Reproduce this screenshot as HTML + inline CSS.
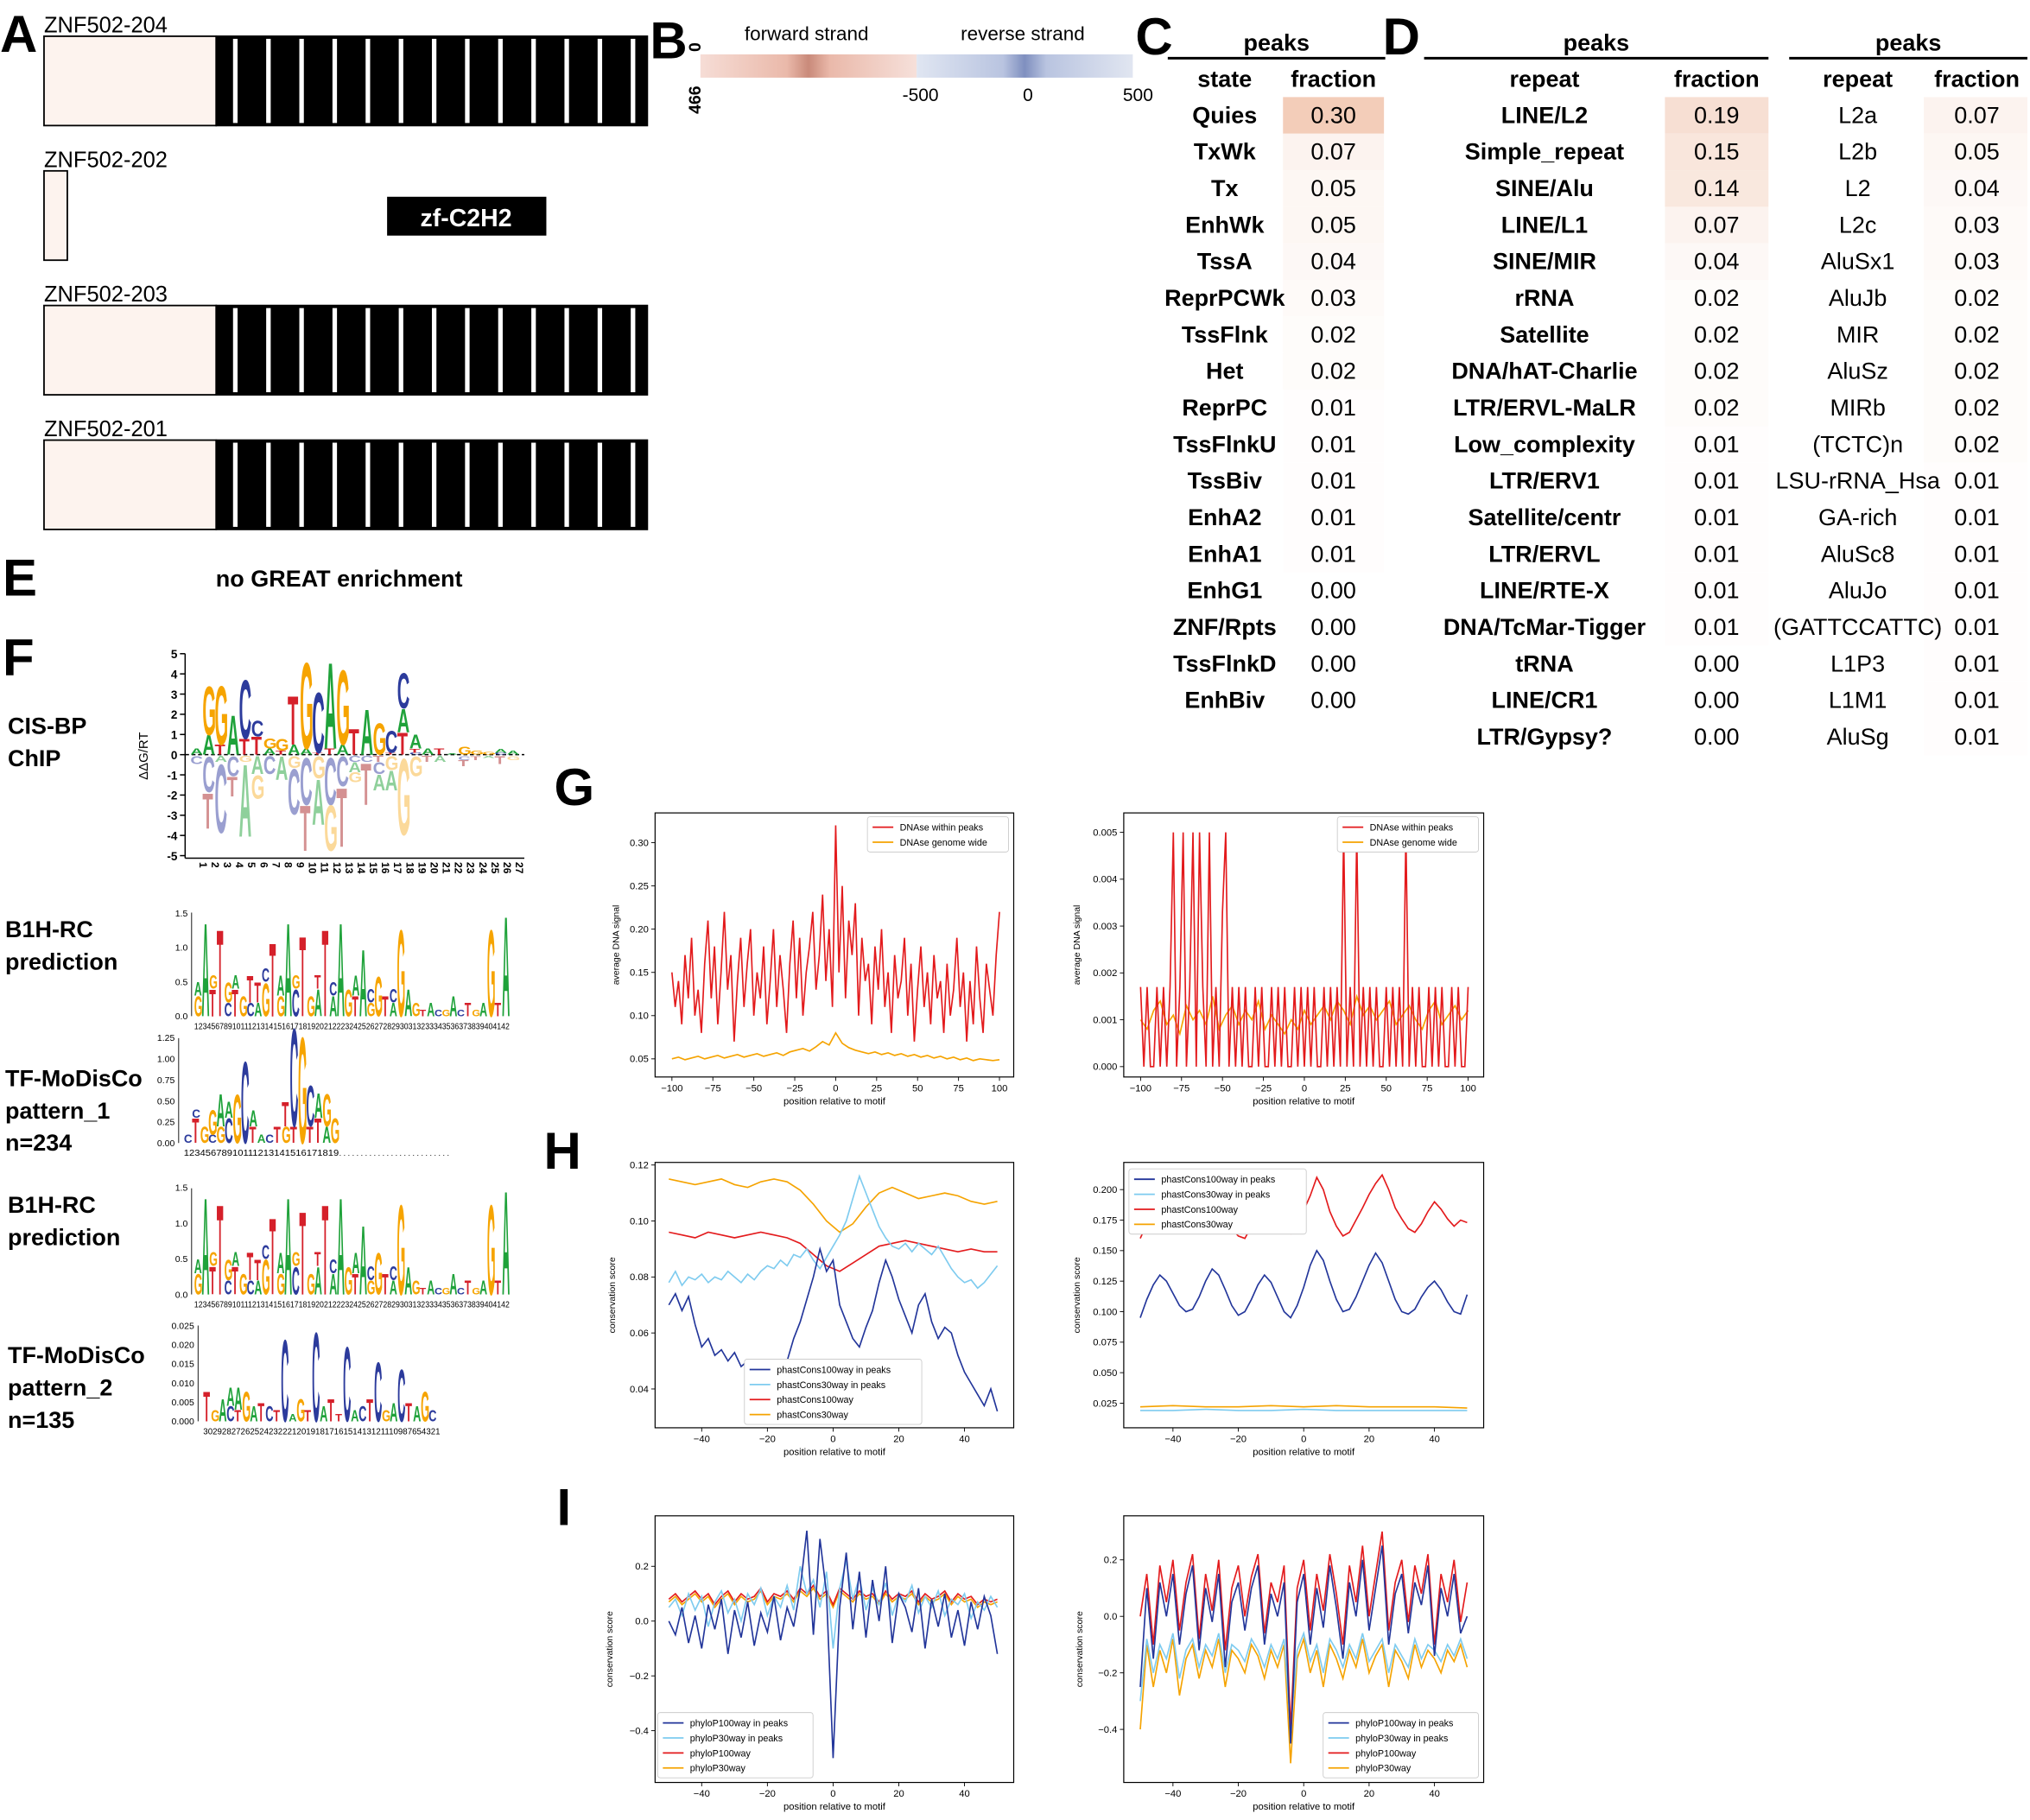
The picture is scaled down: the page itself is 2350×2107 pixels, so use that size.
<!DOCTYPE html>
<html><head><meta charset="utf-8"><style>
html,body{margin:0;padding:0;background:#fff}
svg{display:block}
text{font-family:"Liberation Sans",sans-serif}
</style></head>
<body>
<svg id="fig" xmlns="http://www.w3.org/2000/svg" width="2350" height="2107" viewBox="0 0 1568 1406" preserveAspectRatio="none"></svg>
<script>
// ---------- data ----------
const stateNames=["Quies","TxWk","Tx","EnhWk","TssA","ReprPCWk","TssFlnk","Het","ReprPC","TssFlnkU","TssBiv","EnhA2","EnhA1","EnhG1","ZNF/Rpts","TssFlnkD","EnhBiv"];
const stateFrac=[0.30,0.07,0.05,0.05,0.04,0.03,0.02,0.02,0.01,0.01,0.01,0.01,0.01,0.00,0.00,0.00,0.00];
const repNames=["LINE/L2","Simple_repeat","SINE/Alu","LINE/L1","SINE/MIR","rRNA","Satellite","DNA/hAT-Charlie","LTR/ERVL-MaLR","Low_complexity","LTR/ERV1","Satellite/centr","LTR/ERVL","LINE/RTE-X","DNA/TcMar-Tigger","tRNA","LINE/CR1","LTR/Gypsy?"];
const repFrac=[0.19,0.15,0.14,0.07,0.04,0.02,0.02,0.02,0.02,0.01,0.01,0.01,0.01,0.01,0.01,0.00,0.00,0.00];
const rep2Names=["L2a","L2b","L2","L2c","AluSx1","AluJb","MIR","AluSz","MIRb","(TCTC)n","LSU-rRNA_Hsa","GA-rich","AluSc8","AluJo","(GATTCCATTC)","L1P3","L1M1","AluSg"];
const rep2Frac=[0.07,0.05,0.04,0.03,0.03,0.02,0.02,0.02,0.02,0.02,0.01,0.01,0.01,0.01,0.01,0.01,0.01,0.01];

const gLeftRed=[0.15,0.11,0.14,0.09,0.17,0.12,0.19,0.10,0.13,0.08,0.16,0.21,0.12,0.18,0.09,0.15,0.22,0.13,0.17,0.07,0.14,0.19,0.11,0.16,0.20,0.10,0.15,0.12,0.18,0.09,
0.14,0.20,0.11,0.17,0.13,0.08,0.16,0.21,0.12,0.19,0.10,0.15,0.18,0.22,0.13,0.17,0.24,0.14,0.20,0.11,0.32,0.15,0.25,0.12,0.21,0.17,0.23,0.10,0.19,0.14,
0.16,0.09,0.18,0.13,0.20,0.11,0.15,0.08,0.17,0.12,0.14,0.19,0.10,0.16,0.07,0.13,0.18,0.11,0.15,0.09,0.17,0.12,0.14,0.08,0.16,0.10,0.13,0.19,0.11,0.15,
0.07,0.14,0.09,0.18,0.12,0.08,0.16,0.13,0.10,0.17,0.22];
const gLeftOrange=[0.050,0.052,0.049,0.051,0.053,0.050,0.052,0.054,0.051,0.053,0.055,0.052,0.054,0.056,0.053,0.055,0.057,0.054,0.058,0.060,0.062,0.059,0.064,0.070,0.066,0.080,0.068,0.063,0.060,0.058,0.056,0.058,0.055,0.057,0.054,0.056,0.053,0.055,0.052,0.054,0.051,0.053,0.050,0.052,0.049,0.051,0.048,0.050,0.049,0.048,0.049];
const gRightRed=[17,0,17,0,0,17,0,17,0,17, 50,0,17,50,0,17,50,0,50,17, 0,50,0,17,0,33,50,0,17,0, 17,0,17,0,0,17,0,17,0,0, 17,0,17,0,17,0,0,17,0,17, 0,17,0,17,0,0,17,0,17,0, 17,0,50,0,17,0,50,0,17,0, 17,0,17,0,0,17,0,17,0,17, 0,50,0,17,0,17,0,0,17,0, 17,0,17,0,0,17,0,17,0,0,17];
const gRightOrange=[10,8,12,14,9,11,7,13,10,12,9,15,8,11,13,9,12,10,14,8,11,9,7,10,8,12,9,11,13,10,14,12,9,15,11,13,10,12,14,9,11,13,10,8,12,14,9,11,13,10,12];

const hLeftOrange=[0.115,0.114,0.113,0.114,0.115,0.113,0.112,0.114,0.115,0.114,0.111,0.106,0.100,0.096,0.099,0.105,0.110,0.112,0.110,0.108,0.109,0.110,0.109,0.107,0.106,0.107];
const hLeftRed=[0.096,0.095,0.094,0.096,0.095,0.094,0.095,0.096,0.095,0.094,0.092,0.088,0.084,0.082,0.085,0.088,0.091,0.092,0.093,0.092,0.091,0.090,0.089,0.090,0.089,0.089];
const hLeftLight=[0.078,0.082,0.077,0.080,0.079,0.081,0.078,0.080,0.079,0.082,0.080,0.078,0.081,0.079,0.082,0.084,0.083,0.086,0.084,0.088,0.087,0.090,0.086,0.083,0.087,0.091,0.095,0.100,0.108,0.116,0.110,0.104,0.098,0.094,0.091,0.090,0.092,0.089,0.092,0.090,0.088,0.091,0.087,0.083,0.080,0.078,0.079,0.076,0.078,0.081,0.084];
const hLeftDark=[0.070,0.074,0.068,0.073,0.063,0.055,0.058,0.052,0.054,0.050,0.053,0.048,0.050,0.041,0.045,0.037,0.046,0.040,0.050,0.058,0.064,0.072,0.080,0.090,0.082,0.086,0.070,0.064,0.058,0.055,0.062,0.068,0.078,0.086,0.080,0.072,0.066,0.060,0.070,0.074,0.064,0.058,0.062,0.060,0.052,0.046,0.042,0.038,0.034,0.040,0.032];
const hRightRed=[0.160,0.172,0.180,0.178,0.185,0.176,0.170,0.165,0.168,0.176,0.188,0.194,0.185,0.175,0.168,0.162,0.160,0.170,0.182,0.190,0.186,0.176,0.168,0.164,0.172,0.183,0.195,0.210,0.200,0.182,0.170,0.162,0.165,0.175,0.185,0.196,0.205,0.212,0.200,0.185,0.176,0.168,0.165,0.172,0.182,0.190,0.184,0.176,0.170,0.175,0.173];
const hRightDark=[0.095,0.110,0.122,0.130,0.125,0.115,0.105,0.100,0.102,0.112,0.125,0.135,0.130,0.118,0.105,0.097,0.100,0.110,0.122,0.130,0.124,0.112,0.100,0.095,0.105,0.120,0.138,0.150,0.142,0.125,0.110,0.100,0.102,0.112,0.125,0.138,0.148,0.140,0.125,0.110,0.100,0.098,0.102,0.112,0.120,0.125,0.118,0.108,0.100,0.098,0.114];
const hRightOrange=[0.022,0.023,0.022,0.022,0.023,0.022,0.023,0.022,0.022,0.022,0.021];
const hRightLight=[0.019,0.019,0.020,0.019,0.019,0.020,0.019,0.019,0.019,0.019,0.019];

const iLeftDark=[0.00,-0.05,0.05,-0.08,0.02,-0.10,0.06,-0.03,0.08,-0.12,0.04,-0.06,0.07,-0.09,0.03,-0.04,0.09,-0.07,0.05,-0.02,0.12,0.33,-0.05,0.30,0.10,-0.50,0.05,0.25,-0.03,0.18,-0.06,0.15,0.00,0.20,-0.08,0.10,0.05,-0.04,0.12,-0.10,0.08,-0.02,0.10,-0.06,0.04,-0.09,0.07,-0.03,0.09,0.02,-0.12];
const iLeftLight=[0.05,0.08,0.02,0.10,0.04,0.09,-0.02,0.07,0.11,0.03,0.08,0.00,0.10,0.06,0.12,0.02,0.09,0.05,0.13,0.04,0.20,0.10,0.15,0.05,0.18,-0.10,0.12,0.22,0.08,0.16,0.04,0.12,0.06,0.14,0.02,0.10,0.07,0.13,0.03,0.09,0.05,0.11,0.02,0.08,0.06,0.10,0.01,0.07,0.04,0.09,0.05];
const iLeftRed=[0.08,0.10,0.07,0.09,0.11,0.08,0.10,0.06,0.09,0.11,0.07,0.10,0.08,0.09,0.12,0.07,0.10,0.09,0.11,0.08,0.12,0.10,0.13,0.09,0.11,0.06,0.12,0.10,0.08,0.11,0.09,0.10,0.07,0.11,0.08,0.10,0.09,0.11,0.07,0.10,0.08,0.09,0.11,0.07,0.10,0.08,0.09,0.06,0.08,0.07,0.08];
const iLeftOrange=[0.07,0.09,0.06,0.08,0.10,0.07,0.09,0.05,0.08,0.10,0.06,0.09,0.07,0.08,0.11,0.06,0.09,0.08,0.10,0.07,0.11,0.09,0.12,0.08,0.10,0.05,0.11,0.09,0.07,0.10,0.08,0.09,0.06,0.10,0.07,0.09,0.08,0.10,0.06,0.09,0.07,0.08,0.10,0.06,0.09,0.07,0.08,0.05,0.07,0.06,0.07];
const iRightRed=[0.00,0.15,-0.10,0.18,0.05,0.20,-0.05,0.12,0.22,-0.08,0.15,0.02,0.20,-0.12,0.10,0.18,0.00,0.14,0.22,-0.06,0.12,0.05,0.18,-0.40,0.10,0.20,-0.05,0.15,0.02,0.22,0.08,-0.10,0.18,0.05,0.25,0.00,0.15,0.30,-0.05,0.12,0.20,-0.02,0.18,0.08,0.22,-0.10,0.15,0.05,0.20,-0.02,0.12];
const iRightDark=[-0.25,0.10,-0.15,0.12,0.00,0.15,-0.10,0.08,0.18,-0.12,0.10,-0.02,0.15,-0.18,0.05,0.12,-0.05,0.10,0.18,-0.10,0.08,0.00,0.12,-0.45,0.05,0.15,-0.10,0.10,-0.04,0.18,0.03,-0.15,0.12,0.00,0.20,-0.05,0.10,0.25,-0.10,0.08,0.15,-0.06,0.12,0.04,0.18,-0.14,0.10,0.00,0.15,-0.06,0.00];
const iRightOrange=[-0.40,-0.10,-0.25,-0.12,-0.20,-0.08,-0.28,-0.15,-0.10,-0.22,-0.12,-0.18,-0.08,-0.25,-0.12,-0.15,-0.20,-0.10,-0.14,-0.22,-0.12,-0.18,-0.10,-0.52,-0.15,-0.08,-0.20,-0.12,-0.25,-0.10,-0.15,-0.22,-0.12,-0.18,-0.08,-0.20,-0.14,-0.10,-0.25,-0.12,-0.16,-0.22,-0.10,-0.18,-0.12,-0.15,-0.20,-0.12,-0.16,-0.10,-0.18];
const iRightLight=[-0.30,-0.08,-0.20,-0.10,-0.15,-0.06,-0.22,-0.12,-0.08,-0.18,-0.10,-0.14,-0.06,-0.20,-0.10,-0.12,-0.16,-0.08,-0.12,-0.18,-0.10,-0.15,-0.08,-0.40,-0.12,-0.06,-0.16,-0.10,-0.20,-0.08,-0.12,-0.18,-0.10,-0.15,-0.06,-0.16,-0.12,-0.08,-0.20,-0.10,-0.14,-0.18,-0.08,-0.15,-0.10,-0.12,-0.16,-0.10,-0.14,-0.08,-0.15];

const gLeftYTicks=[0.05,0.10,0.15,0.20,0.25,0.30];
const gXTicks=[-100,-75,-50,-25,0,25,50,75,100];
const gRightYTicks=[0,0.001,0.002,0.003,0.004,0.005];
const hXTicks=[-40,-20,0,20,40];
const hLeftYTicks=[0.04,0.06,0.08,0.10,0.12];
const hRightYTicks=[0.025,0.050,0.075,0.100,0.125,0.150,0.175,0.200];
const iYTicks=[-0.4,-0.2,0.0,0.2];

const cisPos=[["A0.3"],["A1.0","G2.5"],["T0.5","G3.0"],["A2.0"],["T0.8","C3.0"],["T0.9","C0.8"],["A0.3","G0.5"],["T0.2","G0.6"],["A0.5","T2.5"],["A0.3","G4.4"],["T0.1","C3.1"],["T0.3","A4.4"],["A0.5","G3.8"],["T1.3"],["A2.3"],["G1.6"],["T0.1","C1.1"],["T1.1","A1.2","C1.8"],["C0.1","T0.2","A0.7"],["A0.3"],["T0.3"],["A0.05"],["G0.4"],["G0.2"],["G0.15"],["C0.1","A0.2"],["A0.2"]];
const cisNeg=[["C0.4"],["C1.8","T1.8"],["A0.3","C3.5"],["C1.0","T1.0"],["G0.3","A3.7"],["A0.9","G1.2"],["C0.9"],["A1.2"],["G0.6","C2.3"],["C2.4","T2.3"],["G1.1","A2.3"],["C2.4","G2.3"],["C1.5","T3.0"],["C0.3","A0.5","G0.5"],["C0.3","T2.1"],["T0.3","C0.6","A0.8"],["G0.7","A1.0"],["G3.9"],["G1.0"],["T0.3"],["A0.3"],[],["C0.2","T0.3"],["T0.2"],["A0.1"],["T0.4"],["G0.2"]];
const b1hPos=["G0.3,A0.2","A1.4","T0.4,G0.2","T1.3","C0.2,G0.3","T0.4,A0.2","G0.3","C0.2,T0.4","A0.2,T0.3","G0.5,C0.2","T1.1","G0.3,A0.3","A1.4","C0.4,G0.2","T1.2","G0.3","A0.4,T0.2","T1.3","A0.3,C0.2","A1.4","G0.4","T0.3,A0.3","A1.0","G0.2,C0.2","G0.6","T0.3","A0.2,C0.2","G1.3","A0.4","G0.2","T0.1","A0.2","C0.1","G0.1","A0.3","C0.1","T0.2","G0.1","A0.2","G1.3","T0.2","A1.5"];
const pat1Pos=["C0.1","T0.3,C0.1","G0.2","C0.1,G0.3","G0.2,A0.4","C0.3,A0.2","G0.6","C1.0","T0.2,A0.2","A0.1","C0.1","T0.2","G0.2,T0.3","T0.2,C1.2","G1.3","T0.2,C0.5","T0.3,A0.3","A0.2,G0.4","G0.3"];
const pat2Pos=["T0.008","G0.003","A0.006","C0.004,A0.005","T0.003,A0.006","G0.008","A0.004","T0.005","C0.004","T0.003","C0.022","A0.002","G0.006","T0.003","C0.024","A0.004","T0.006","T0.002","C0.020","A0.003","C0.004","T0.006","C0.016","G0.003","A0.005","C0.014","T0.005","A0.004","G0.008","C0.003"];

// ---------- helpers ----------
const NS="http://www.w3.org/2000/svg";
const svg=document.getElementById('fig');
function mk(tag,attrs,parent){const e=document.createElementNS(NS,tag);for(const k in attrs)e.setAttribute(k,attrs[k]);(parent||svg).appendChild(e);return e;}
function txt(x,y,s,size,opt,parent){opt=opt||{};const e=mk('text',{x:x,y:y,'font-size':size,'text-anchor':opt.anchor||'start','font-weight':opt.bold?'bold':'normal',fill:opt.fill||'#000'},parent);if(opt.rot!==undefined)e.setAttribute('transform','rotate('+opt.rot+' '+x+' '+y+')');if(opt.ls)e.setAttribute('letter-spacing',opt.ls);e.textContent=s;return e;}

// ---------- panel letters ----------
[["A",0,40],["B",502,45],["C",877,42],["D",1068,42],["E",2,460],["F",2,522],["G",428,622],["H",420,903],["I",430,1178]].forEach(p=>{
  const t=txt(p[1],p[2],p[0],40,{bold:true});
  
  
});

// ---------- A gene models ----------
const genes=[["ZNF502-204",28,true],["ZNF502-202",132,false],["ZNF502-203",236,true],["ZNF502-201",340,true]];
genes.forEach(g=>{
  const grp=mk('g',{});
  
  
  txt(34,g[1]-3,g[0],17,{},grp);
  if(g[2]){
    mk('rect',{x:34,y:g[1],width:133,height:69,fill:'#fdf3ee',stroke:'#000','stroke-width':1.2},grp);
    mk('rect',{x:167,y:g[1],width:333,height:69,fill:'#000',stroke:'#000','stroke-width':1.2},grp);
    for(let i=0;i<13;i++)mk('rect',{x:180+i*25.6,y:g[1]+2,width:3.5,height:65,fill:'#fff'},grp);
  }else{
    mk('rect',{x:34,y:g[1],width:18,height:69,fill:'#fdf3ee',stroke:'#000','stroke-width':1.2},grp);
    mk('rect',{x:299,y:152,width:123,height:30,fill:'#000'},grp);
    txt(360,175,'zf-C2H2',19,{anchor:'middle',bold:true,fill:'#fff'},grp);
  }
});

// ---------- B heatmap ----------
const defs=mk('defs',{});
const gr1=mk('linearGradient',{id:'gf',x1:0,x2:1,y1:0,y2:0},defs);
[[0,'#f6ddd6'],[0.4,'#eab9aa'],[0.5,'#c98a7a'],[0.6,'#eab9aa'],[1,'#f6e0da']].forEach(s=>mk('stop',{offset:s[0],'stop-color':s[1]},gr1));
const gr2=mk('linearGradient',{id:'gr',x1:0,x2:1,y1:0,y2:0},defs);
[[0,'#e0e6f2'],[0.4,'#b9c4e0'],[0.5,'#7f8fbf'],[0.6,'#b9c4e0'],[1,'#e1e6f1']].forEach(s=>mk('stop',{offset:s[0],'stop-color':s[1]},gr2));
const hb=mk('g',{});


mk('rect',{x:541,y:42,width:167,height:18,fill:'url(#gf)'},hb);
mk('rect',{x:708,y:42,width:167,height:18,fill:'url(#gr)'},hb);
txt(623,31,'forward strand',15,{anchor:'middle'},hb);
txt(790,31,'reverse strand',15,{anchor:'middle'},hb);
txt(541,40,'0',13,{bold:true,rot:-90},hb);
txt(541,88,'466',13,{bold:true,rot:-90},hb);
[["-500",711],["0",794],["500",879]].forEach(t=>txt(t[1],78,t[0],14,{anchor:'middle'},hb));

// ---------- C / D tables ----------
function fracColor(v){const t=Math.min(1,v/0.30);const c=[243,205,185];return 'rgb('+c.map(x=>Math.round(255+(x-255)*t)).join(',')+')';}
function table(name,x0,x1,nameX,fracX,cellX,cellW,hdr,names,fracs,boldNames){
  const g=mk('g',{});
  
  
  txt((x0+x1)/2,39,'peaks',18,{anchor:'middle',bold:true},g);
  mk('line',{x1:x0,x2:x1,y1:45,y2:45,stroke:'#000','stroke-width':2},g);
  txt(nameX,67,hdr,18,{anchor:'middle',bold:true},g);
  txt(fracX,67,'fraction',18,{anchor:'middle',bold:true},g);
  names.forEach((n,i)=>{
    const y=89+i*28.25;
    const r=mk('rect',{x:cellX,y:y-14,width:cellW,height:28.25,fill:fracColor(fracs[i])},g);
    
    
    txt(nameX,y+6,n,18,{anchor:'middle',bold:boldNames},g);
    txt(fracX,y+6,fracs[i].toFixed(2),18,{anchor:'middle'},g);
  });
}
table('chromatin-state-table',902,1070,946,1030,991,78,'state',stateNames,stateFrac,true);
table('repeat-family-table',1100,1366,1193,1326,1286,80,'repeat',repNames,repFrac,true);
table('repeat-element-table',1382,1566,1435,1527,1486,80,'repeat',rep2Names,rep2Frac,false);

// ---------- E ----------
const et=txt(262,453,'no GREAT enrichment',18,{anchor:'middle',bold:true});



// ---------- F logos ----------
const COL={A:'#1fa23a',C:'#2c3b9c',G:'#f6a400',T:'#d5202a'};
const NEGCOL={A:'#8fd09b',C:'#9a9fd0',G:'#fbd99a',T:'#d49192'};
function glyph(letter,x,yBottom,w,h,fill,parent){
  if(h<=0.3)return;
  const e=mk('text',{x:0,y:0,'font-size':100,'font-weight':'bold',fill:fill,transform:'translate('+x+' '+yBottom+') scale('+(w/70)+' '+(h/72)+')'},parent);
  
  
  e.textContent=letter;
}
function parseStack(s){return (Array.isArray(s)?s:s.split(',')).filter(Boolean).map(p=>[p[0],parseFloat(p.slice(1))]);}
function logo(name,stacks,x0,w,base,unit,parent,neg){
  stacks.forEach((st,i)=>{
    let y=base;
    parseStack(st).forEach(([l,v])=>{
      const h=v*unit;
      if(neg){glyph(l,x0+i*w,y+h,w,h,NEGCOL[l],parent);y+=h;}
      else{glyph(l,x0+i*w,y,w,h,COL[l],parent);y-=h;}
    });
  });
}
function lbl(lines,x,y,parent){lines.forEach((l,i)=>txt(x,y+i*25,l,18,{bold:true},parent));}

// CIS-BP
const f1=mk('g',{});


lbl(['CIS-BP','ChIP'],6,567,f1);
mk('line',{x1:143,x2:143,y1:505,y2:663,stroke:'#000'},f1);
for(let v=-5;v<=5;v++){const y=583-v*15.6;mk('line',{x1:139,x2:143,y1:y,y2:y,stroke:'#000'},f1);txt(137,y+3.5,String(v),9,{anchor:'end',bold:true},f1);}
txt(114,584,'ΔΔG/RT',10,{anchor:'middle',rot:-90},f1);
mk('line',{x1:143,x2:405,y1:583,y2:583,stroke:'#000','stroke-dasharray':'3,2'},f1);
mk('line',{x1:143,x2:405,y1:663,y2:663,stroke:'#000'},f1);
logo('cis',cisPos,147,9.4,583,15.6,f1,false);
logo('cisneg',cisNeg,147,9.4,584,15.6,f1,true);
for(let i=0;i<27;i++)txt(147+i*9.4+7,666,String(i+1),8,{rot:90,bold:true},f1);

function smallAxis(parent,x,base,top,ticks,unit,fmt){
  mk('line',{x1:x,x2:x,y1:top,y2:base,stroke:'#000','stroke-width':0.6},parent);
  ticks.forEach(v=>{const y=base-v*unit;txt(x-3,y+2.5,fmt(v),7,{anchor:'end'},parent);});
}
function posNums(parent,x0,w,n,y,rev){let s='';for(let i=0;i<n;i++)s+=(rev?(n-i):(i+1));const t=txt(x0,y,s,7,{},parent);t.setAttribute('textLength',w*n);t.setAttribute('lengthAdjust','spacingAndGlyphs');}

const f2=mk('g',{});


lbl(['B1H-RC','prediction'],4,724,f2);
smallAxis(f2,148,785,705,[0,0.5,1.0,1.5],53,v=>v.toFixed(1));
logo('b1h',b1hPos,150,5.8,785,53,f2,false);
posNums(f2,150,5.8,42,795,false);

const f3=mk('g',{});


lbl(['TF-MoDisCo','pattern_1','n=234'],4,839,f3);
smallAxis(f3,138,883,802,[0,0.25,0.5,0.75,1.0,1.25],65,v=>v.toFixed(2));
logo('p1',pat1Pos,142,6.3,883,65,f3,false);
posNums(f3,142,6.3,19,893,false);
txt(262,893,'. . . . . . . . . . . . . . . . . . . . . . . . . .',6,{},f3);

const f4=mk('g',{});


lbl(['B1H-RC','prediction'],6,937,f4);
smallAxis(f4,148,1000,918,[0,0.5,1.0,1.5],55,v=>v.toFixed(1));
logo('b1h2',b1hPos,150,5.8,1000,55,f4,false);
posNums(f4,150,5.8,42,1010,false);

const f5=mk('g',{});


lbl(['TF-MoDisCo','pattern_2','n=135'],6,1053,f5);
smallAxis(f5,153,1098,1024,[0,0.005,0.010,0.015,0.020,0.025],2960,v=>v.toFixed(3));
logo('p2',pat2Pos,157,6,1098,2960,f5,false);
posNums(f5,157,6.1,30,1108,true);

// ---------- line charts ----------
function chart(cfg){
  const g=mk('g',{});
  
  
  const [bx0,by0,bx1,by1]=cfg.box;
  const xs=v=>cfg.xr[1]+(v-cfg.xr[0])*(cfg.xr[3]-cfg.xr[1])/(cfg.xr[2]-cfg.xr[0]);
  const ys=v=>cfg.yr[1]+(v-cfg.yr[0])*(cfg.yr[3]-cfg.yr[1])/(cfg.yr[2]-cfg.yr[0]);
  mk('rect',{x:bx0,y:by0,width:bx1-bx0,height:by1-by0,fill:'#fff',stroke:'#000','stroke-width':0.8},g);
  cfg.xticks.forEach(v=>{const x=xs(v);mk('line',{x1:x,x2:x,y1:by1,y2:by1+3,stroke:'#000','stroke-width':0.6},g);txt(x,by1+11,String(v).replace('-','−'),7.5,{anchor:'middle'},g);});
  cfg.yticks.forEach(v=>{const y=ys(v);mk('line',{x1:bx0-3,x2:bx0,y1:y,y2:y,stroke:'#000','stroke-width':0.6},g);txt(bx0-5,y+2.6,cfg.yfmt(v).replace('-','−'),7.5,{anchor:'end'},g);});
  txt((bx0+bx1)/2,by1+21,'position relative to motif',7.5,{anchor:'middle'},g);
  txt(cfg.ylabX,(by0+by1)/2,cfg.ylab,7,{anchor:'middle',rot:-90},g);
  cfg.series.forEach(s=>{
    const n=s.data.length;const step=(cfg.xmax-cfg.xmin)/(n-1);
    const d=s.data.map((v,i)=>(i?'L':'M')+xs(cfg.xmin+i*step).toFixed(2)+' '+ys(v*(s.scale||1)).toFixed(2)).join(' ');
    const p=mk('path',{d:d,fill:'none',stroke:s.color,'stroke-width':1.1},g);
    
    
  });
  const L=cfg.legend;const lg=mk('g',{},g);
  
  
  mk('rect',{x:L[0],y:L[1],width:L[2],height:cfg.series.length*11.6+4,fill:'#fff',stroke:'#ccc','stroke-width':0.6,rx:2},lg);
  cfg.series.slice().sort((a,b)=>a.order-b.order).forEach((s,i)=>{
    const y=L[1]+8+i*11.6;
    mk('line',{x1:L[0]+4,x2:L[0]+20,y1:y,y2:y,stroke:s.color,'stroke-width':1.2},lg);
    txt(L[0]+25,y+2.6,s.label,7.2,{},lg);
  });
}
const RED='#e31a1c',ORA='#f5a300',DB='#22359a',LB='#7ecbef';
chart({name:'dnase-within-peaks-chart',box:[506,628,783,832],xr:[-100,519,100,772],yr:[0.05,818,0.30,651],xmin:-100,xmax:100,xticks:gXTicks,yticks:gLeftYTicks,yfmt:v=>v.toFixed(2),ylab:'average DNA signal',ylabX:478,legend:[670,631,109],
 series:[{label:'DNAse genome wide',data:gLeftOrange,color:ORA,order:1},{label:'DNAse within peaks',data:gLeftRed,color:RED,order:0}]});
chart({name:'dnase-shuffled-chart',box:[868,628,1146,832],xr:[-100,881,100,1134],yr:[0,824,0.005,643],xmin:-100,xmax:100,xticks:gXTicks,yticks:gRightYTicks,yfmt:v=>v.toFixed(3),ylab:'average DNA signal',ylabX:834,legend:[1033,631,109],
 series:[{label:'DNAse genome wide',data:gRightOrange,color:ORA,order:1,scale:1e-4},{label:'DNAse within peaks',data:gRightRed,color:RED,order:0,scale:1e-4}]});
chart({name:'phastcons-peaks-chart',box:[506,898,783,1103],xr:[-40,542,40,745],yr:[0.04,1073,0.12,900],xmin:-50,xmax:50,xticks:hXTicks,yticks:hLeftYTicks,yfmt:v=>v.toFixed(2),ylab:'conservation score',ylabX:475,legend:[575,1050,137],
 series:[{label:'phastCons30way',data:hLeftOrange,color:ORA,order:3},{label:'phastCons100way',data:hLeftRed,color:RED,order:2},{label:'phastCons30way in peaks',data:hLeftLight,color:LB,order:1},{label:'phastCons100way in peaks',data:hLeftDark,color:DB,order:0}]});
chart({name:'phastcons-shuffled-chart',box:[868,898,1146,1103],xr:[-40,906,40,1108],yr:[0.025,1084,0.2,919],xmin:-50,xmax:50,xticks:hXTicks,yticks:hRightYTicks,yfmt:v=>v.toFixed(3),ylab:'conservation score',ylabX:834,legend:[872,903,137],
 series:[{label:'phastCons30way',data:hRightOrange,color:ORA,order:3},{label:'phastCons100way',data:hRightRed,color:RED,order:2},{label:'phastCons30way in peaks',data:hRightLight,color:LB,order:1},{label:'phastCons100way in peaks',data:hRightDark,color:DB,order:0}]});
chart({name:'phylop-peaks-chart',box:[506,1171,783,1377],xr:[-40,542,40,745],yr:[0.2,1210,-0.4,1337],xmin:-50,xmax:50,xticks:hXTicks,yticks:iYTicks,yfmt:v=>v.toFixed(1),ylab:'conservation score',ylabX:473,legend:[508,1323,120],
 series:[{label:'phyloP30way',data:iLeftOrange,color:ORA,order:3},{label:'phyloP100way',data:iLeftRed,color:RED,order:2},{label:'phyloP30way in peaks',data:iLeftLight,color:LB,order:1},{label:'phyloP100way in peaks',data:iLeftDark,color:DB,order:0}]});
chart({name:'phylop-shuffled-chart',box:[868,1171,1146,1377],xr:[-40,906,40,1108],yr:[0.2,1205,-0.4,1336],xmin:-50,xmax:50,xticks:hXTicks,yticks:iYTicks,yfmt:v=>v.toFixed(1),ylab:'conservation score',ylabX:836,legend:[1022,1323,120],
 series:[{label:'phyloP30way',data:iRightOrange,color:ORA,order:3},{label:'phyloP30way in peaks',data:iRightLight,color:LB,order:1},{label:'phyloP100way',data:iRightRed,color:RED,order:2},{label:'phyloP100way in peaks',data:iRightDark,color:DB,order:0}]});
</script>
</body></html>
